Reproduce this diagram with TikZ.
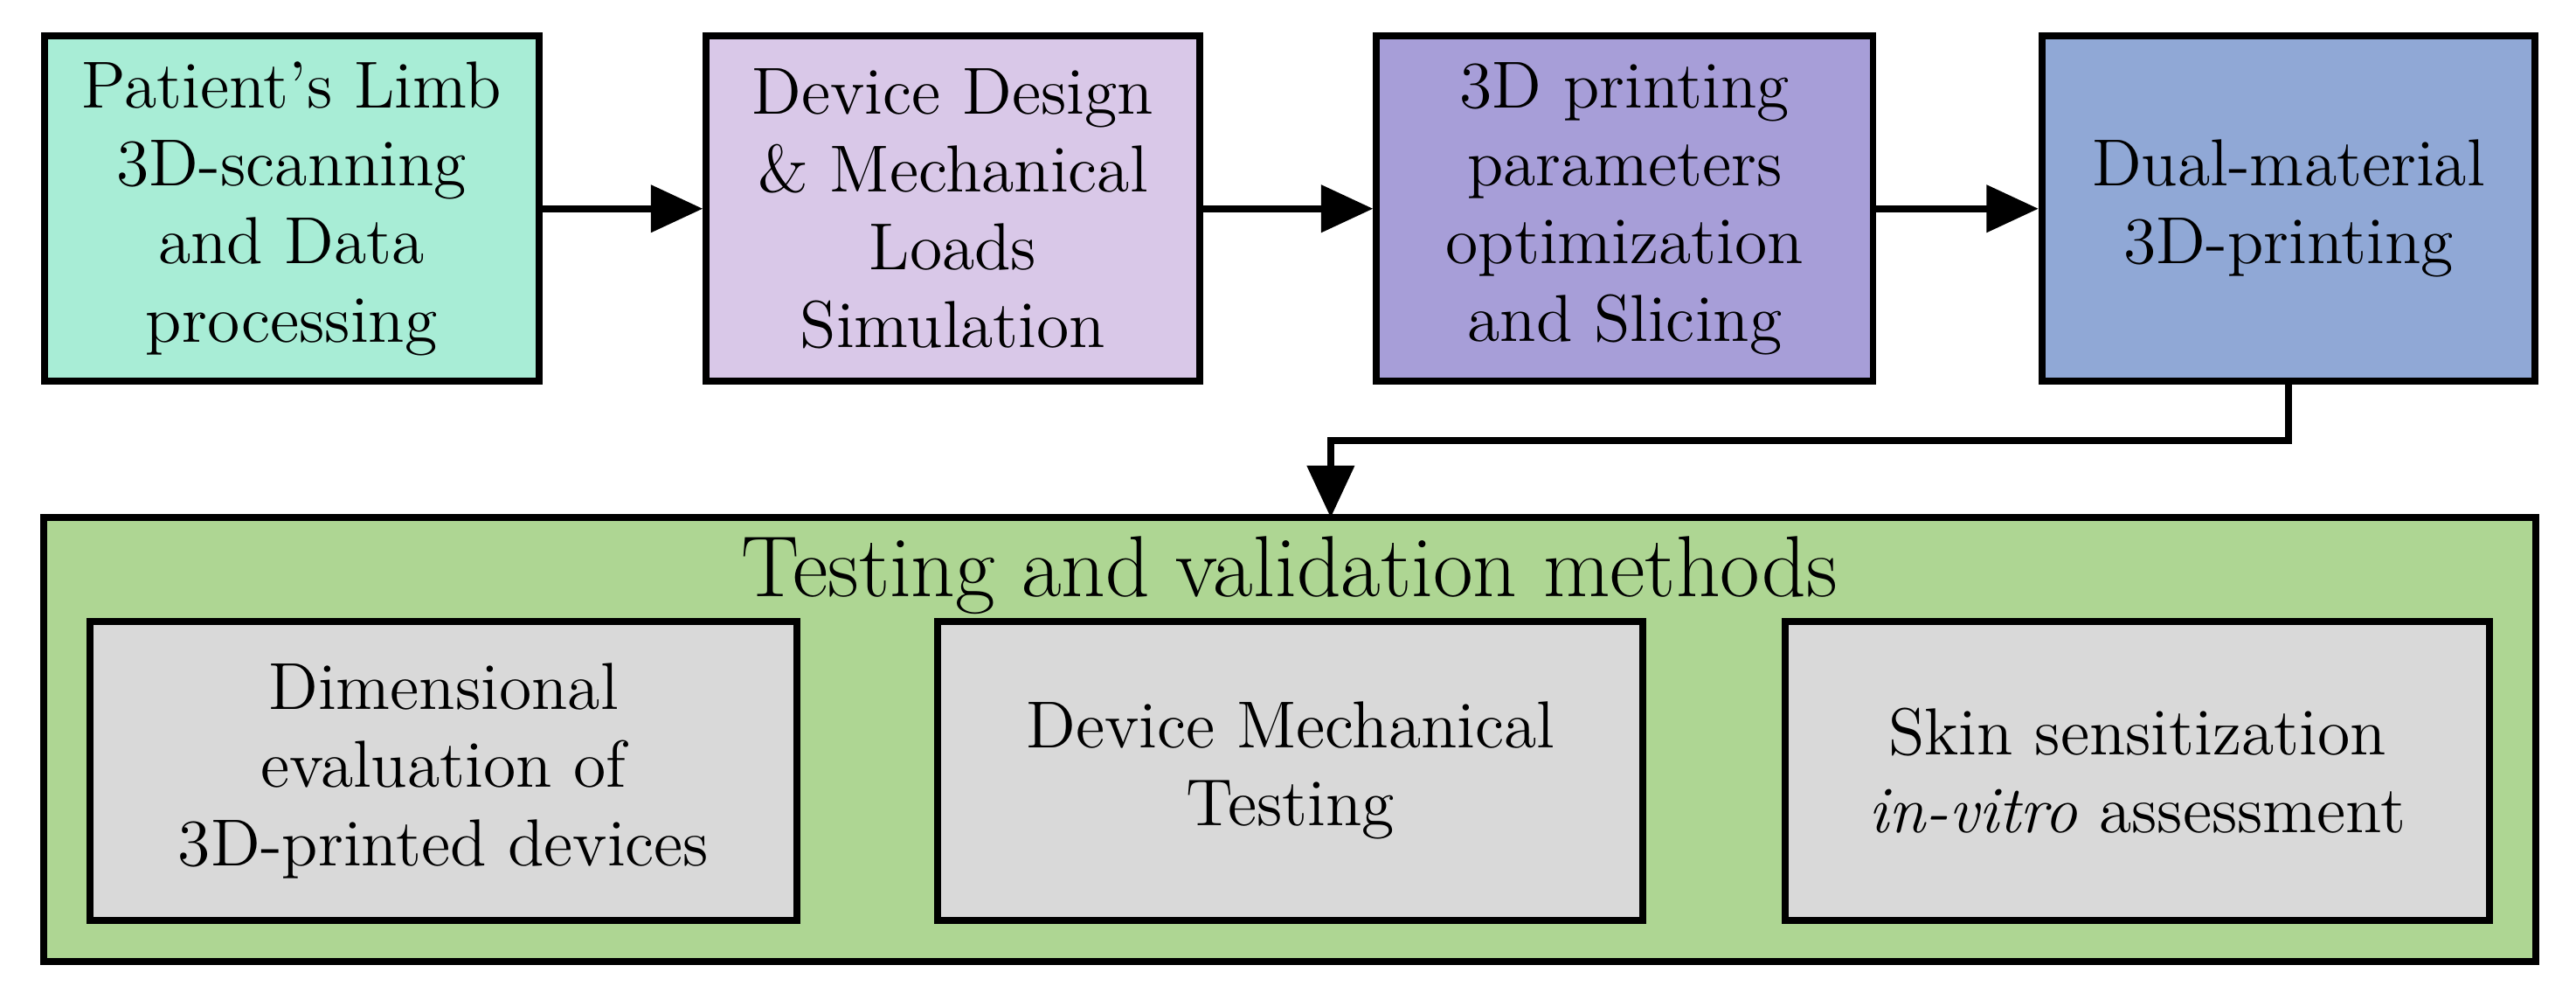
\documentclass[tikz,border=0pt]{standalone}
\usetikzlibrary{arrows.meta}
\begin{document}
\begin{tikzpicture}[x=0.01cm,y=-0.01cm,
 box/.style={draw=black,line width=1.2pt,inner sep=0pt,align=center,font=\fontsize{11.5}{13.5}\selectfont},
 arr/.style={-{Triangle[length=9pt,width=8pt]},line width=1.2pt}]
\useasboundingbox (0,0) rectangle (1568,604);
\node[box,fill={rgb,255:red,168;green,237;blue,214},minimum width=3.01cm,minimum height=2.10cm] (a) at (177.5,127) {Patient's Limb\\3D-scanning\\and Data\\processing};
\node[box,fill={rgb,255:red,217;green,200;blue,232},minimum width=3.00cm,minimum height=2.10cm] (b) at (580,127) {Device Design\\\& Mechanical\\Loads\\Simulation};
\node[box,fill={rgb,255:red,167;green,158;blue,216},minimum width=3.02cm,minimum height=2.10cm] (c) at (989,127) {3D printing\\parameters\\optimization\\and Slicing};
\node[box,fill={rgb,255:red,144;green,168;blue,214},minimum width=3.00cm,minimum height=2.10cm] (d) at (1393,127) {Dual-material\\3D-printing};
\draw[arr] (a) -- (b);
\draw[arr] (b) -- (c);
\draw[arr] (c) -- (d);
\node[box,fill={rgb,255:red,174;green,214;blue,147},minimum width=15.16cm,minimum height=2.70cm] (g) at (785,450) {};
\node[font=\fontsize{15}{18}\selectfont] (t) at (785,350) {Testing and validation methods};
\coordinate (e) at (810,315);
\draw[arr] (d.south) -- ++(0,34) -| (e);
\node[box,fill={rgb,255:red,217;green,217;blue,217},minimum width=4.30cm,minimum height=1.82cm] (p) at (270,469) {Dimensional\\evaluation of\\3D-printed devices};
\node[box,fill={rgb,255:red,217;green,217;blue,217},minimum width=4.29cm,minimum height=1.82cm] (q) at (785.5,469) {Device Mechanical\\Testing};
\node[box,fill={rgb,255:red,217;green,217;blue,217},minimum width=4.28cm,minimum height=1.82cm] (r) at (1301,469) {Skin sensitization\\\textit{in-vitro} assessment};
\end{tikzpicture}
\end{document}
